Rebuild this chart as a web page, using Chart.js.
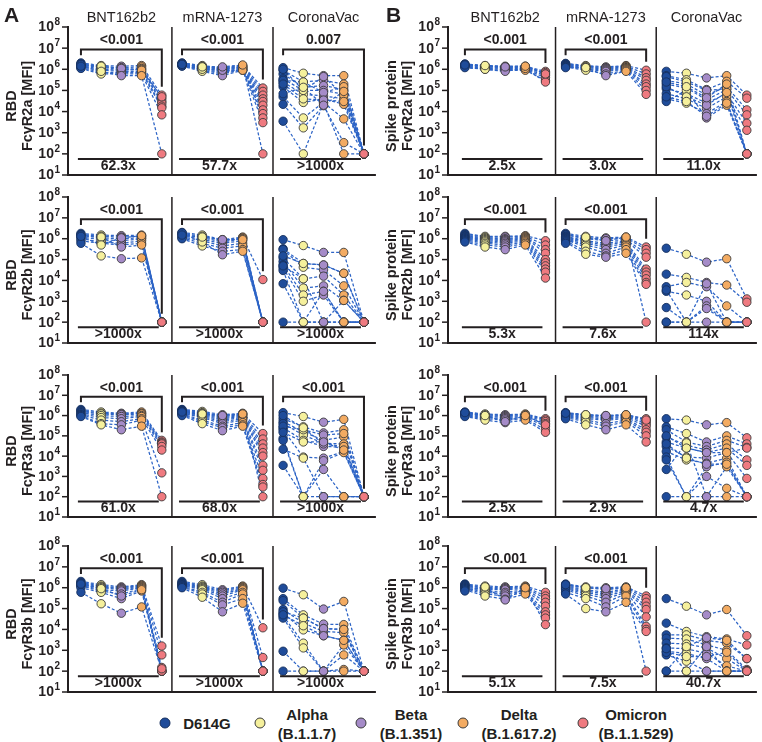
<!DOCTYPE html>
<html>
<head>
<meta charset="utf-8">
<script src="https://cdn.jsdelivr.net/npm/chart.js@4.4.1/dist/chart.umd.min.js"></script>
<style>
  body { margin: 0; width: 762px; height: 742px; background: #fff; position: relative; overflow: hidden;
         font-family: "Liberation Sans", Arial, sans-serif; color: #231f20; }
  canvas { position: absolute; }
  .txt { position: absolute; white-space: nowrap; line-height: 1; }
  .hdr { font-size: 14.5px; transform: translate(-50%, -50%); }
  .letter { font-size: 21px; font-weight: bold; }
  .leg { font-size: 15px; font-weight: bold; transform: translate(-50%, -50%); text-align: center; }
  .dot { position: absolute; width: 9px; height: 9px; border-radius: 50%; border: 1px solid #3b3b3b;
         transform: translate(-50%, -50%); }
</style>
</head>
<body>
<script>
// ---- data ----------------------------------------------------------
const vaccines = ['BNT162b2', 'mRNA-1273', 'CoronaVac'];
const variants = ['D614G', 'Alpha', 'Beta', 'Delta', 'Omicron'];
const lineages = ['', '(B.1.1.7)', '(B.1.351)', '(B.1.617.2)', '(B.1.1.529)'];
const variantColors = ['#1f4c9a', '#f5f09c', '#a58bc8', '#f3ab62', '#ef7a80'];
const antigens = ['RBD', 'Spike protein'];
const receptors = ['FcγR2a', 'FcγR2b', 'FcγR3a', 'FcγR3b'];
const yTicks = [1e1, 1e2, 1e3, 1e4, 1e5, 1e6, 1e7, 1e8];

// each subject: [D614G, Alpha, Beta, Delta, Omicron] MFI ; groups: BNT162b2, mRNA-1273, CoronaVac
const rbdR2a = [
  [[2.0e6,1.5e6,1.4e6,1.5e6,6e4],[1.8e6,1.3e6,1.2e6,1.3e6,4e4],[1.6e6,1.2e6,1.0e6,1.1e6,3e4],
   [1.5e6,1.0e6,9e5,1.0e6,2.5e4],[1.3e6,9e5,8e5,8e5,1.8e4],[1.2e6,7e5,7e5,7e5,1.5e4],
   [1.1e6,6e5,6e5,6e5,7e3],[1.7e6,1.4e6,1.1e6,9e5,5e4],[1.4e6,8e5,5e5,5e5,100]],
  [[2.0e6,1.5e6,1.2e6,1.5e6,1.3e5],[1.9e6,1.4e6,1.1e6,1.4e6,9e4],[1.8e6,1.3e6,1.0e6,1.3e6,6e4],
   [1.7e6,1.2e6,9e5,1.2e6,4e4],[1.6e6,1.1e6,8e5,1.1e6,3e4],[1.5e6,1.0e6,7e5,1.0e6,2e4],
   [1.5e6,9e5,6e5,1.0e6,1.2e4],[1.4e6,8e5,5e5,9e5,8e3],[1.8e6,1.2e6,1.1e6,1.2e6,5e3],
   [1.6e6,1.0e6,9e5,9e5,3e3],[1.7e6,1.3e6,1.3e6,1.6e6,100]],
  [[1.2e6,6.5e5,5e5,5e5,100],[9e5,2.5e5,3e5,2e5,100],[6e5,1.4e5,1.7e5,1.1e5,100],
   [3.5e5,1e5,1e5,6.5e4,100],[2.5e5,6.5e4,5.5e4,4e4,100],[1.5e5,2.7e4,4e4,2.2e4,100],
   [5e4,5e3,2.7e4,4.5e3,100],[2.2e4,1.7e3,1.9e4,340,100],[3.5e3,100,2.5e4,100,100],
   [3e5,2.5e5,8e4,1.5e5,100],[1e6,1e5,4.5e5,6e4,100],[2e5,4e4,3.5e4,3e4,100],[7e4,1.4e5,2e4,9e4,100]]
];
const rbdR2b = [
  [[1.8e6,1.5e6,1.4e6,1.5e6,100],[1.6e6,1.3e6,1.2e6,1.3e6,100],[1.4e6,1.1e6,1.0e6,1.1e6,100],
   [1.2e6,9e5,8e5,1e6,100],[1.0e6,7e5,6e5,8e5,100],[8e5,6e5,5e5,6e5,100],
   [6e5,1.5e5,1.1e5,1.2e5,100],[1.5e6,1.2e6,4e5,5e5,100],[1.3e6,5e5,1.1e6,1.4e6,100]],
  [[2.0e6,1.5e6,9e5,1.2e6,1.1e4],[1.8e6,1.3e6,8e5,1.1e6,100],[1.6e6,1.1e6,7e5,1.0e6,100],
   [1.4e6,9e5,6e5,8e5,100],[1.2e6,8e5,4.5e5,6e5,100],[1.1e6,6e5,3.5e5,4.5e5,100],
   [1.0e6,4.5e5,2.5e5,3e5,100],[1.9e6,7e5,1.7e5,2.5e5,100],[1.5e6,1.2e6,9e5,9e5,100]],
  [[9e5,4.7e5,2.2e5,2.2e5,100],[3.3e5,6.5e4,5.5e4,2.2e4,100],[3e5,4.3e4,3.2e4,5.5e3,100],
   [1.2e5,1.2e4,1.6e4,2e3,100],[8e4,4.3e3,5.5e3,1.1e3,100],[5.5e4,2e3,3e3,100,100],
   [4e4,1e3,2e3,100,100],[3e4,100,100,100,100],[7e3,100,3e3,100,100],[100,100,100,100,100],
   [1.5e5,6.5e4,5.5e4,2.2e4,100],[5e4,1.2e4,100,1.1e3,100]]
];
const rbdR3a = [
  [[2e6,1.5e6,1.3e6,1.5e6,6e4],[1.8e6,1.3e6,1.2e6,1.3e6,5e4],[1.6e6,1.2e6,1.1e6,1.2e6,4.5e4],
   [1.4e6,1.0e6,9e5,1.0e6,4e4],[1.2e6,8e5,7e5,9e5,3e4],[1.1e6,6e5,5e5,7e5,2e4],
   [1.0e6,4e5,3.5e5,6e5,1.5e3],[9e5,3.5e5,2e5,3e5,100]],
  [[2e6,1.6e6,1.1e6,1.3e6,1.3e5],[1.9e6,1.4e6,1.0e6,1.2e6,7e4],[1.8e6,1.3e6,9e5,1.1e6,4e4],
   [1.7e6,1.2e6,8e5,1.0e6,2.5e4],[1.6e6,1.1e6,7e5,9e5,1.5e4],[1.5e6,1.0e6,6e5,8e5,1e4],
   [1.4e6,9e5,5e5,7e5,3.5e3],[1.3e6,8e5,4e5,6e5,2e3],[1.2e6,6e5,3e5,4.5e5,800],
   [1.1e6,5e5,2.5e5,3.5e5,400],[1.0e6,4e5,1.8e5,3e5,300],[1.5e6,1.2e6,1.0e6,1.2e6,100]],
  [[1.4e6,9e5,4.7e5,6.5e5,100],[7e5,2.8e5,1.4e5,2e5,100],[5e5,1.6e5,6e4,9e4,100],
   [4e5,1.1e5,4.3e4,4e4,100],[2.5e5,6e4,3e4,2.8e4,100],[2e5,9e3,8e3,1.7e4,100],
   [7.5e4,100,6e3,1.5e4,100],[6e4,100,2.2e3,100,100],[2.2e4,8e3,100,100,100],
   [3.5e3,100,100,100,100],[3e5,2e5,1.1e5,1.3e5,100],[1e6,2.5e5,4e4,3e4,100],[1.5e5,5e4,5e4,2e4,100]]
];
const rbdR3b = [
  [[2e6,1.4e6,1.1e6,1.4e6,1.6e3],[1.8e6,1.2e6,1.0e6,1.3e6,600],[1.6e6,1.1e6,9e5,1.2e6,150],
   [1.4e6,1.0e6,8e5,1.1e6,100],[1.3e6,8e5,7e5,1.0e6,100],[1.2e6,7e5,5e5,9e5,100],
   [1.0e6,6e5,3e5,7e5,100],[6e5,1.7e5,6e4,1.2e5,100],[1.5e6,9e5,4e5,8e5,130]],
  [[2e6,1.4e6,8e5,1.2e6,1.2e4],[1.8e6,1.2e6,7e5,1.1e6,450],[1.6e6,1.1e6,6e5,1.0e6,100],
   [1.5e6,1.0e6,5e5,9e5,100],[1.4e6,9e5,4e5,8e5,100],[1.3e6,8e5,3e5,6e5,100],
   [1.2e6,6e5,2e5,5e5,100],[1.1e6,5e5,1.5e5,3e5,100],[1.0e6,3.5e5,7e4,1.8e5,100]],
  [[9.5e5,4.6e5,9.5e4,2.2e5,100],[3e5,5e4,1.8e4,1.7e4,100],[2.4e5,3.5e4,1.1e4,1e4,100],
   [9e4,2e4,8e3,7e3,100],[6e4,9.5e3,5e3,3e3,100],[4.5e4,2.2e3,100,1.8e3,100],
   [3.5e4,1.3e3,100,600,100],[900,100,100,120,100],[100,100,100,100,100],
   [7e4,3.5e4,1.1e4,1e4,100],[5e4,1.5e4,5e3,3e3,100]]
];
const spikeR2a = [
  [[1.8e6,1.5e6,1.4e6,1.4e6,8e5],[1.7e6,1.4e6,1.3e6,1.3e6,7e5],[1.6e6,1.3e6,1.2e6,1.2e6,6e5],
   [1.5e6,1.2e6,1.1e6,1.1e6,5e5],[1.4e6,1.1e6,1.0e6,1.0e6,4e5],[1.3e6,1.0e6,9e5,9e5,3e5],
   [1.2e6,1.0e6,8e5,1.1e6,2.5e5],[1.6e6,1.5e6,1.3e6,1.4e6,6e5]],
  [[1.9e6,1.5e6,1.3e6,1.5e6,9e5],[1.8e6,1.4e6,1.2e6,1.4e6,6e5],[1.7e6,1.3e6,1.1e6,1.3e6,4e5],
   [1.6e6,1.2e6,1.0e6,1.2e6,3e5],[1.5e6,1.1e6,9e5,1.1e6,2e5],[1.4e6,1.0e6,8e5,1.0e6,1.5e5],
   [1.3e6,9e5,6e5,9e5,1e5],[1.2e6,1.2e6,5e5,8e5,6.5e4]],
  [[8e5,6.5e5,3.9e5,5e5,6e4],[5e5,3.2e5,1.1e5,2.7e5,4.3e4],[3e5,2e5,6e4,1.5e5,1.2e4],
   [2e5,1.3e5,3.6e4,1.1e5,7e3],[1.2e5,7e4,2.5e4,7e4,2.8e3],[7e4,4e4,1.4e4,5e4,1.3e3],
   [4e4,2.5e4,8e3,3e4,100],[3e4,1e5,5e3,2e4,100],[4.5e5,2.5e5,1e5,1.2e5,100],
   [1.5e5,5e4,2e4,8e4,100],[5e4,3e4,6e3,2.5e4,100],[2.5e5,1.5e5,4.5e4,2e5,100]]
];
const spikeR2b = [
  [[1.8e6,1.3e6,1.3e6,1.4e6,8e5],[1.6e6,1.2e6,1.2e6,1.3e6,5e5],[1.4e6,1.1e6,1.0e6,1.2e6,3e5],
   [1.3e6,1.0e6,9e5,1.1e6,2e5],[1.2e6,9e5,8e5,1.0e6,1e5],[1.1e6,8e5,7e5,9e5,7e4],
   [1.0e6,7e5,6e5,8e5,5e4],[9e5,6e5,5e5,7e5,3.5e4],[8e5,5e5,4e5,6e5,2.5e4],[7e5,4e5,3e5,5e5,1.3e4]],
  [[1.8e6,1.3e6,1.1e6,1.2e6,4e5],[1.6e6,1.1e6,1.0e6,1.1e6,3e5],[1.5e6,1.0e6,8e5,9e5,2e5],
   [1.3e6,8e5,6e5,8e5,1.3e5],[1.2e6,7e5,5e5,7e5,3.5e4],[1.1e6,6e5,4e5,6e5,2.5e4],
   [1.0e6,5e5,3e5,5e5,1.8e4],[9e5,4e5,2e5,4e5,1.2e4],[8e5,2.5e5,1.5e5,3e5,8e3],
   [7e5,1.8e5,1.3e5,2e5,6.5e3],[6e5,1.2e6,8e5,1.2e6,100]],
  [[3.5e5,1.8e5,7.5e4,1.1e5,1.3e3],[2e4,1.4e4,8e3,6e3,900],[5e3,8e3,5e3,600,100],
   [3e3,2e3,1e3,100,100],[500,100,600,100,100],[100,100,450,100,100],[100,100,100,100,100],
   [3.5e3,100,7e3,100,100]]
];
const spikeR3a = [
  [[1.5e6,1.2e6,1.1e6,1.2e6,7e5],[1.4e6,1.1e6,1.0e6,1.1e6,6e5],[1.3e6,1.0e6,9e5,1.0e6,5e5],
   [1.2e6,9e5,8e5,9e5,4e5],[1.1e6,8e5,7e5,8e5,3e5],[1.0e6,7e5,6e5,7e5,2e5],
   [9e5,6e5,4.5e5,6e5,1.5e5],[1.4e6,1.0e6,5e5,1.0e6,3.5e5]],
  [[1.4e6,1.1e6,1.0e6,1.1e6,7e5],[1.3e6,1.0e6,9e5,1.0e6,5e5],[1.2e6,9e5,8e5,9e5,4e5],
   [1.1e6,8e5,7e5,8e5,3e5],[1.0e6,7e5,6e5,7e5,2e5],[9e5,6e5,4e5,6e5,1.5e5],
   [8e5,5e5,3e5,5e5,1e5],[7e5,3.5e5,2e5,3.5e5,5e4],[1.3e6,1.1e6,1.0e6,1.1e6,6e5]],
  [[7e5,6e5,3.5e5,4.5e5,8e4],[2.8e5,1.3e5,5e4,1e5,4e4],[2e5,5e4,3e4,6e4,2.7e4],
   [9e4,3.5e4,2e4,4e4,6.5e3],[5e4,2.5e4,1.5e4,2.5e4,3.5e3],[3e4,9e3,8e3,1.5e4,800],
   [1.7e4,6.5e3,4.5e3,8e3,100],[9e3,100,3e3,5e3,100],[6.5e3,100,1e3,260,100],
   [2.2e3,4.5e4,100,100,100],[100,100,100,3e3,100],[1e5,2.5e4,1.5e4,1.5e4,2.5e4],[4e4,8e3,4e3,4e3,100]]
];
const spikeR3b = [
  [[1.5e6,1.2e6,1.1e6,1.2e6,6e5],[1.4e6,1.0e6,1.0e6,1.1e6,4e5],[1.3e6,9e5,9e5,1.0e6,3e5],
   [1.2e6,8e5,8e5,9e5,2e5],[1.1e6,7e5,6e5,8e5,1.3e5],[1.0e6,6e5,5e5,7e5,7e4],
   [9e5,5e5,4e5,6e5,5e4],[8e5,4e5,2.8e5,5e5,3.5e4],[7e5,1.1e6,2.6e5,1.0e6,1.7e4]],
  [[1.5e6,1.1e6,1.0e6,1.1e6,4e5],[1.3e6,1.0e6,8e5,1.0e6,3e5],[1.2e6,8e5,6e5,9e5,2e5],
   [1.1e6,7e5,5e5,8e5,1.3e5],[1.0e6,6e5,4e5,7e5,9e4],[9e5,5e5,3e5,6e5,4e4],
   [8e5,4e5,2e5,5e5,1.4e4],[6e5,3e5,1.2e5,4e5,1e4],[5e5,1e5,7e4,2e5,8e3],[1.4e6,1.0e6,9e5,1.0e6,100]],
  [[3e5,1.3e5,5e4,9e4,5e3],[2e4,8e3,4.5e3,3.5e3,1.8e3],[5.5e3,5.5e3,3e3,2.2e3,400],
   [3.8e3,3.5e3,1.8e3,1e3,120],[2.2e3,2e3,1.3e3,400,100],[1.3e3,1.2e3,700,180,100],
   [900,700,400,100,100],[600,300,100,100,100],[100,100,100,100,100],
   [100,1.5e3,4e3,3e3,400],[800,500,500,800,100],[1.2e3,100,1.5e3,100,100]]
];

// p values (Omicron vs D614G) and fold reductions, rows = FcγR2a, FcγR2b, FcγR3a, FcγR3b
const pRbd   = [['<0.001','<0.001','0.007'], ['<0.001','<0.001',null], ['<0.001','<0.001','<0.001'], ['<0.001','<0.001',null]];
const foldRbd = [['62.3x','57.7x','>1000x'], ['>1000x','>1000x','>1000x'], ['61.0x','68.0x','>1000x'], ['>1000x','>1000x','>1000x']];
const pSpike   = [['<0.001','<0.001',null], ['<0.001','<0.001',null], ['<0.001','<0.001',null], ['<0.001','<0.001',null]];
const foldSpike = [['2.5x','3.0x','11.0x'], ['5.3x','7.6x','114x'], ['2.5x','2.9x','4.7x'], ['5.1x','7.5x','40.7x']];

const rbdData = [rbdR2a, rbdR2b, rbdR3a, rbdR3b];
const spikeData = [spikeR2a, spikeR2b, spikeR3a, spikeR3b];

// ---- layout --------------------------------------------------------
const INK = '#231f20';
const LINE = '#2d64c6';
const FONT = '"Liberation Sans", Arial, sans-serif';
const CW = 381;
const rowTop = [27, 197, 375, 546];     // pixel of 10^8
const rowBottom = [175, 343, 517, 692]; // pixel of 10^1
const colLeft = [0, 381];
const colAxis = [68, 67];
const colRight = [377, 376];
const colXMin = [-0.64, -0.84];
const colXMax = [14.59, 14.5];

function makePanel(col, row, groups, pvals, folds, title) {
  const top = rowTop[row] - 14;
  const h = rowBottom[row] - rowTop[row] + 24;
  const cv = document.createElement('canvas');
  cv.width = CW; cv.height = h;
  cv.style.left = colLeft[col] + 'px';
  cv.style.top = top + 'px';
  document.body.appendChild(cv);

  const datasets = [];
  groups.forEach((subjects, g) => {
    subjects.forEach(s => {
      datasets.push({
        data: s.map((v, k) => ({x: g * 5 + k, y: v})),
        showLine: true, borderColor: LINE, borderWidth: 1.25, borderDash: [3, 2],
        pointRadius: 0, order: 2
      });
    });
  });
  variants.forEach((name, k) => {
    const pts = [];
    groups.forEach((subjects, g) => subjects.forEach(s => pts.push({x: g * 5 + k, y: s[k]})));
    datasets.push({
      label: name, data: pts, showLine: false,
      pointRadius: 4.2, pointBackgroundColor: variantColors[k],
      pointBorderColor: k === 0 ? '#16305e' : '#3a3a3a', pointBorderWidth: 0.9, order: 1
    });
  });

  const decor = {
    id: 'decor',
    afterDraw(chart) {
      const {ctx, chartArea: a, scales: {x, y}} = chart;
      ctx.save();
      ctx.strokeStyle = INK; ctx.fillStyle = INK;
      // axes
      ctx.lineWidth = 2;
      ctx.beginPath();
      ctx.moveTo(a.left, a.top - 1); ctx.lineTo(a.left, a.bottom + 1);
      ctx.moveTo(a.left - 1, a.bottom); ctx.lineTo(a.right, a.bottom);
      ctx.stroke();
      // ticks + labels
      ctx.lineWidth = 1.5;
      yTicks.forEach(t => {
        const py = y.getPixelForValue(t);
        ctx.beginPath(); ctx.moveTo(a.left - 6, py); ctx.lineTo(a.left, py); ctx.stroke();
        const e = String(Math.round(Math.log10(t)));
        ctx.textBaseline = 'middle'; ctx.textAlign = 'right';
        ctx.font = 'bold 10px ' + FONT;
        const ew = ctx.measureText(e).width;
        ctx.fillText(e, a.left - 8, py - 5);
        ctx.font = 'bold 14px ' + FONT;
        ctx.fillText('10', a.left - 8 - ew - 0.5, py + 0.5);
      });
      // vaccine dividers
      ctx.lineWidth = 1.5;
      [4.5, 9.5].forEach(v => {
        const px = x.getPixelForValue(v);
        ctx.beginPath(); ctx.moveTo(px, a.top); ctx.lineTo(px, a.bottom); ctx.stroke();
      });
      ctx.lineWidth = 2;
      ctx.font = 'bold 14px ' + FONT;
      ctx.textAlign = 'center'; ctx.textBaseline = 'middle';
      groups.forEach((subjects, g) => {
        // bracket with p value
        if (pvals[g]) {
          const maxOm = Math.max(...subjects.map(s => s[4]));
          const end = Math.min(maxOm * 2.5, 10 ** 6.55);
          const xl = x.getPixelForValue(g * 5), xr = x.getPixelForValue(g * 5 + 4);
          const yt = y.getPixelForValue(10 ** 6.93);
          ctx.beginPath();
          ctx.moveTo(xl, y.getPixelForValue(10 ** 6.66));
          ctx.lineTo(xl, yt); ctx.lineTo(xr, yt);
          ctx.lineTo(xr, y.getPixelForValue(end));
          ctx.stroke();
          ctx.fillText(pvals[g], (xl + xr) / 2, y.getPixelForValue(10 ** 7.36));
        }
        // fold change bar
        const fa = x.getPixelForValue(g * 5 - 0.15), fb = x.getPixelForValue(g * 5 + 3.85);
        const fy = y.getPixelForValue(10 ** 1.76);
        ctx.beginPath(); ctx.moveTo(fa, fy); ctx.lineTo(fb, fy); ctx.stroke();
        ctx.fillText(folds[g], (fa + fb) / 2, y.getPixelForValue(10 ** 1.44));
      });
      // y title
      ctx.font = 'bold 14.5px ' + FONT;
      const yc = (a.top + a.bottom) / 2 + 5;
      [[title[0], col ? 11 : 12], [title[1], col ? 27 : 28]].forEach(([t, px]) => {
        ctx.save();
        ctx.translate(px, yc); ctx.rotate(-Math.PI / 2);
        ctx.fillText(t, 0, 0);
        ctx.restore();
      });
      ctx.restore();
    }
  };

  return new Chart(cv, {
    type: 'scatter',
    data: {datasets},
    options: {
      responsive: false, animation: false, events: [],
      layout: {padding: {left: colAxis[col], right: CW - colRight[col], top: 14, bottom: 10}},
      scales: {
        x: {type: 'linear', min: colXMin[col], max: colXMax[col], display: false},
        y: {type: 'logarithmic', min: 10, max: 1e8, display: false}
      },
      plugins: {legend: {display: false}, tooltip: {enabled: false}}
    },
    plugins: [decor]
  });
}

function addText(cls, text, left, top) {
  const d = document.createElement('div');
  d.className = 'txt ' + cls;
  d.textContent = text;
  d.style.left = left + 'px'; d.style.top = top + 'px';
  document.body.appendChild(d);
  return d;
}

for (let r = 0; r < 4; r++) {
  const cA = makePanel(0, r, rbdData[r], pRbd[r], foldRbd[r], [antigens[0], receptors[r] + ' [MFI]']);
  const cB = makePanel(1, r, spikeData[r], pSpike[r], foldSpike[r], [antigens[1], receptors[r] + ' [MFI]']);
  if (r === 0) {
    [cA, cB].forEach((ch, c) => {
      vaccines.forEach((v, g) => {
        addText('hdr', v, colLeft[c] + ch.scales.x.getPixelForValue(g * 5 + 2), 17);
      });
    });
  }
}
addText('letter', 'A', 4, 4);
addText('letter', 'B', 386, 4);

// legend
const legDotX = [165, 260, 361, 463, 583];
const legTextX = [207, 307, 411, 519, 636];
variants.forEach((v, k) => {
  const dot = document.createElement('div');
  dot.className = 'dot';
  dot.style.left = legDotX[k] + 'px'; dot.style.top = '723px';
  dot.style.background = variantColors[k];
  if (k === 0) dot.style.borderColor = '#16305e';
  document.body.appendChild(dot);
  if (lineages[k]) {
    addText('leg', v, legTextX[k], 714);
    addText('leg', lineages[k], legTextX[k], 733);
  } else {
    addText('leg', v, legTextX[k], 723);
  }
});
</script>
</body>
</html>
